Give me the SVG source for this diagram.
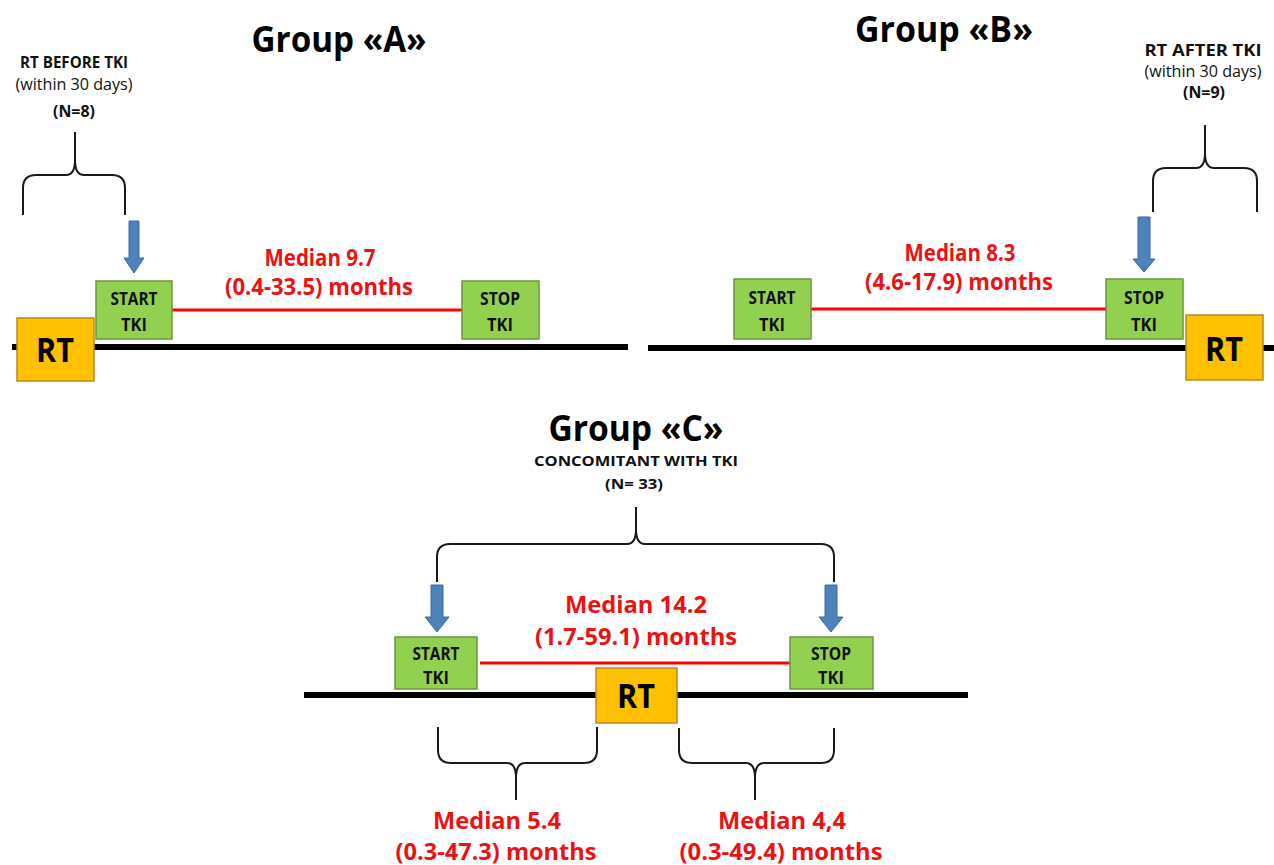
<svg xmlns="http://www.w3.org/2000/svg" width="1274" height="865" viewBox="0 0 1274 865">
<style>
text{font-family:"Open Sans",Lato,"Liberation Sans",sans-serif;text-anchor:middle}
.title{font-size:36px;font-weight:bold;fill:#000}
.hdr{font-size:16px;font-weight:bold;fill:#111}
.sub{font-size:16px;fill:#111}
.box{font-size:17px;font-weight:bold;fill:#111}
.sm{font-size:15px;font-weight:bold;fill:#111}
.rt{font-size:34px;font-weight:bold;fill:#000}
.med{font-size:23px;font-weight:bold;fill:#ee1111}
.medc{font-size:24px;font-weight:bold;fill:#ee1111}
.tki{fill:#92d050;stroke:#6e9440;stroke-width:1.5}
.rtbox{fill:#ffc000;stroke:#b88a1e;stroke-width:1.5}
.axis{stroke:#000;stroke-width:6}
.span{stroke:#ff0000;stroke-width:3}
.brace{fill:none;stroke:#1a1a1a;stroke-width:2}
.arrow{fill:#4f81bd;stroke:#3d6a9e;stroke-width:1}
</style>
<rect width="1274" height="865" fill="#fff"/>
<g id="connectors">
<line class="axis" x1="12" y1="347" x2="628" y2="347"/>
<line class="axis" x1="648" y1="348" x2="1274" y2="348"/>
<line class="axis" x1="304" y1="695" x2="968" y2="695"/>
<line class="span" x1="172" y1="310" x2="462" y2="310"/>
<line class="span" x1="811" y1="309" x2="1106" y2="309"/>
<line class="span" x1="480" y1="663" x2="790" y2="663"/>
<path class="brace" d="M23,215 L23,188 Q23,175 36,175 L66,175 Q75,175 75,160 L75,132 M75,160 Q75,175 84,175 L112,175 Q125,175 125,188 L125,215"/>
<path class="brace" d="M1153,212 L1153,181 Q1153,168 1166,168 L1196,168 Q1205,168 1205,153 L1205,125 M1205,153 Q1205,168 1214,168 L1244,168 Q1257,168 1257,181 L1257,212"/>
<path class="brace" d="M437,582 L437,557 Q437,544 450,544 L627,544 Q636,544 636,529 L636,507 M636,529 Q636,544 645,544 L821,544 Q834,544 834,557 L834,582"/>
<path class="brace" d="M438,727 L438,750 Q438,763 451,763 L507,763 Q516,763 516,778 L516,800 M516,778 Q516,763 525,763 L584,763 Q597,763 597,750 L597,727"/>
<path class="brace" d="M679,728 L679,750 Q679,763 692,763 L746,763 Q755,763 755,778 L755,800 M755,778 Q755,763 764,763 L821,763 Q834,763 834,750 L834,728"/>
<polygon class="arrow" points="129,221 139,221 139,258 144,258 134,273 124,258 129,258"/>
<polygon class="arrow" points="1138,217 1150,217 1150,259 1155,259 1144,272 1133,259 1138,259"/>
<polygon class="arrow" points="431,585 443,585 443,617 449,617 437,632 425,617 431,617"/>
<polygon class="arrow" points="825,585 837,585 837,617 843,617 831,632 819,617 825,617"/>
</g>
<g id="groupA-labels">
<text class="title" x="339" y="52" textLength="175" lengthAdjust="spacingAndGlyphs">Group «A»</text>
<text class="hdr" x="74" y="68" textLength="108" lengthAdjust="spacingAndGlyphs">RT BEFORE TKI</text>
<text class="sub" x="74" y="90" textLength="117" lengthAdjust="spacingAndGlyphs">(within 30 days)</text>
<text class="hdr" x="74" y="117" textLength="42" lengthAdjust="spacingAndGlyphs">(N=8)</text>
<text class="med" x="320" y="266" textLength="111" lengthAdjust="spacingAndGlyphs">Median 9.7</text>
<text class="med" x="319" y="295" textLength="188" lengthAdjust="spacingAndGlyphs">(0.4-33.5) months</text>
</g>
<g id="A-rt">
<rect class="rtbox" x="17" y="318" width="77" height="63"/>
<text class="rt" x="55" y="362" textLength="38" lengthAdjust="spacingAndGlyphs">RT</text>
</g>
<g id="A-start">
<rect class="tki" x="96" y="281" width="76" height="58"/>
<text class="box" x="134" y="305" textLength="47" lengthAdjust="spacingAndGlyphs">START</text>
<text class="box" x="134" y="331" textLength="26" lengthAdjust="spacingAndGlyphs">TKI</text>
</g>
<g id="A-stop">
<rect class="tki" x="462" y="281" width="77" height="58"/>
<text class="box" x="500" y="305" textLength="40" lengthAdjust="spacingAndGlyphs">STOP</text>
<text class="box" x="500" y="331" textLength="26" lengthAdjust="spacingAndGlyphs">TKI</text>
</g>
<g id="groupB-labels">
<text class="title" x="944" y="42" textLength="178" lengthAdjust="spacingAndGlyphs">Group «B»</text>
<text class="hdr" x="1203" y="56" textLength="117" lengthAdjust="spacingAndGlyphs">RT AFTER TKI</text>
<text class="sub" x="1203" y="77" font-size="15" textLength="117" lengthAdjust="spacingAndGlyphs">(within 30 days)</text>
<text class="hdr" x="1204" y="98" font-size="15" textLength="42" lengthAdjust="spacingAndGlyphs">(N=9)</text>
<text class="med" x="960" y="261" textLength="111" lengthAdjust="spacingAndGlyphs">Median 8.3</text>
<text class="med" x="959" y="290" textLength="188" lengthAdjust="spacingAndGlyphs">(4.6-17.9) months</text>
</g>
<g id="B-start">
<rect class="tki" x="734" y="279" width="77" height="60"/>
<text class="box" x="772" y="304" textLength="47" lengthAdjust="spacingAndGlyphs">START</text>
<text class="box" x="772" y="331" textLength="26" lengthAdjust="spacingAndGlyphs">TKI</text>
</g>
<g id="B-stop">
<rect class="tki" x="1106" y="279" width="77" height="60"/>
<text class="box" x="1144" y="304" textLength="40" lengthAdjust="spacingAndGlyphs">STOP</text>
<text class="box" x="1144" y="331" textLength="26" lengthAdjust="spacingAndGlyphs">TKI</text>
</g>
<g id="B-rt">
<rect class="rtbox" x="1186" y="315" width="77" height="65"/>
<text class="rt" x="1224" y="361" textLength="38" lengthAdjust="spacingAndGlyphs">RT</text>
</g>
<g id="groupC-labels">
<text class="title" x="636" y="441" textLength="175" lengthAdjust="spacingAndGlyphs">Group «C»</text>
<text class="sm" x="636" y="466" textLength="204" lengthAdjust="spacingAndGlyphs">CONCOMITANT WITH TKI</text>
<text class="sm" x="634" y="489" textLength="58" lengthAdjust="spacingAndGlyphs">(N= 33)</text>
<text class="medc" x="636" y="613" textLength="142" lengthAdjust="spacingAndGlyphs">Median 14.2</text>
<text class="medc" x="636" y="645" textLength="202" lengthAdjust="spacingAndGlyphs">(1.7-59.1) months</text>
<text class="medc" x="497" y="829" textLength="128" lengthAdjust="spacingAndGlyphs">Median 5.4</text>
<text class="medc" x="496" y="860" textLength="201" lengthAdjust="spacingAndGlyphs">(0.3-47.3) months</text>
<text class="medc" x="782" y="829" textLength="128" lengthAdjust="spacingAndGlyphs">Median 4,4</text>
<text class="medc" x="781" y="860" textLength="203" lengthAdjust="spacingAndGlyphs">(0.3-49.4) months</text>
</g>
<g id="C-start">
<rect class="tki" x="395" y="637" width="82" height="52"/>
<text class="box" x="436" y="660" textLength="47" lengthAdjust="spacingAndGlyphs">START</text>
<text class="box" x="436" y="684" textLength="26" lengthAdjust="spacingAndGlyphs">TKI</text>
</g>
<g id="C-stop">
<rect class="tki" x="790" y="637" width="83" height="52"/>
<text class="box" x="831" y="660" textLength="40" lengthAdjust="spacingAndGlyphs">STOP</text>
<text class="box" x="831" y="684" textLength="26" lengthAdjust="spacingAndGlyphs">TKI</text>
</g>
<g id="C-rt">
<rect class="rtbox" x="596" y="668" width="81" height="55"/>
<text class="rt" x="636" y="708" textLength="38" lengthAdjust="spacingAndGlyphs">RT</text>
</g>
</svg>
